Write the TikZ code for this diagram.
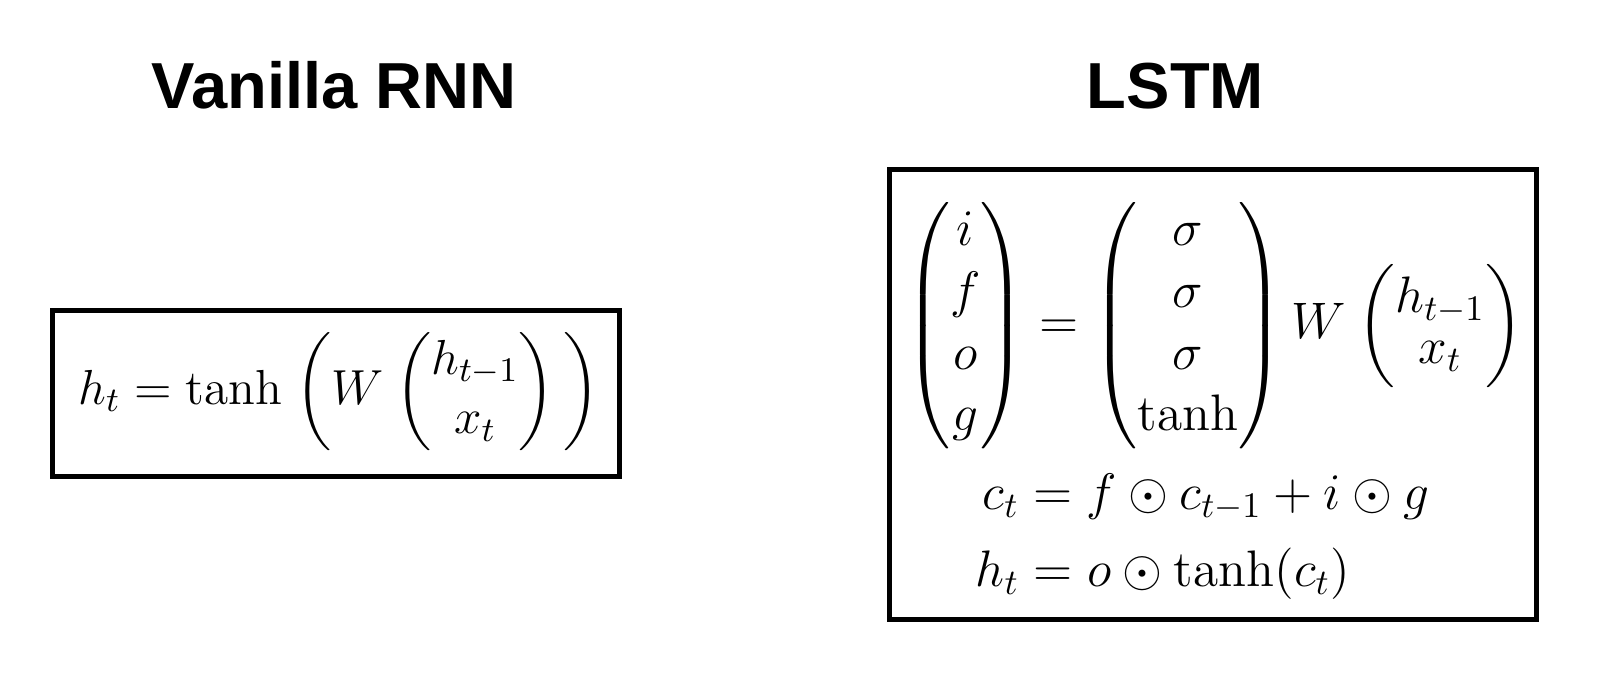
\RequirePackage{fix-cm}
\documentclass[tikz,border=0pt]{standalone}
\usepackage{amsmath}
\usepackage{amssymb}
\usepackage{fontspec}
\newfontfamily\headfont{Liberation Sans}
\usetikzlibrary{positioning}
\tikzset{eqbox/.style = {draw, line width = 1.4pt, inner sep = 0}}
\tikzset{head/.style = {font = \headfont\bfseries\fontsize{18.5}{22}\selectfont, inner sep = 0}}
\tikzset{eqn/.style = {inner sep = 0, font = \fontsize{14}{17}\selectfont}}
\tikzset{eqnr/.style = {inner sep = 0, font = \fontsize{14.6}{17.5}\selectfont}}

\begin{document}
\begin{tikzpicture}[x = 0.01cm, y = -0.01cm]
  \useasboundingbox (0, 0) rectangle (1618, 686);

  % titles
  \node [head, anchor = base] (rnnTitle) at (334, 109) {Vanilla RNN};
  \node [head, anchor = base] (lstmTitle) at (1175.5, 109) {LSTM};

  % vanilla rnn
  \node [eqbox, minimum width = 5.67cm, minimum height = 1.66cm] (rnnBox) at (336, 393.5) {};
  \node [eqn] (rnnEq) at (339, 392)
    {$h_t = \tanh\mskip 5mu\biggl(W\mskip 4mu\biggl(\begin{matrix}h_{t-1}\\ x_t\end{matrix}\biggr)\mskip 3mu\biggr)$};

  % lstm
  \node [eqbox, minimum width = 6.47cm, minimum height = 4.5cm] (lstmBox) at (1213, 394.5) {};
  \node [eqnr] (gateEq) at (1214, 326)
    {$\begin{pmatrix}i\\ f\\ o\\ g\end{pmatrix} = \begin{pmatrix}\sigma\\ \sigma\\ \sigma\\ \tanh\end{pmatrix} W\mskip 4mu\biggl(\begin{matrix}h_{t-1}\\[-3pt] x_t\end{matrix}\biggr)$};
  \node [eqnr, anchor = base west] (cellEq) at (982, 510)
    {$c_t = f \odot c_{t-1} + i \odot g$};
  \node [eqnr, anchor = base west] (hidEq) at (975, 587)
    {$h_t = o \odot \tanh(c_t)$};
\end{tikzpicture}
\end{document}
